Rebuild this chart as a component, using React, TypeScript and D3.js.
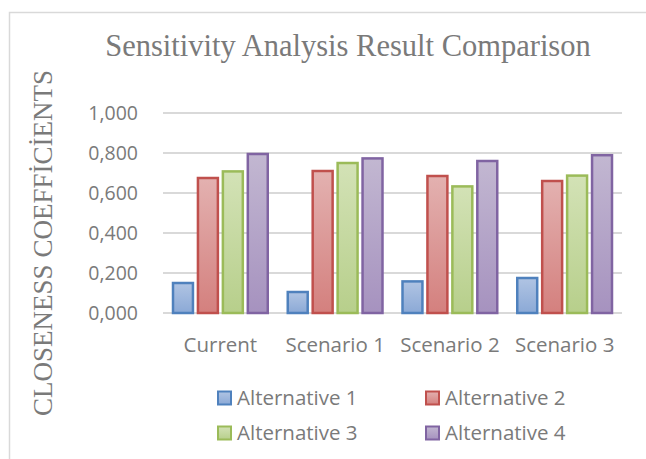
import * as React from 'react'
import { scaleBand, scaleLinear, format } from 'd3'

const categories = ['Current', 'Scenario 1', 'Scenario 2', 'Scenario 3']
const seriesNames = ['Alternative 1', 'Alternative 2', 'Alternative 3', 'Alternative 4']
const alt1 = [0.15, 0.105, 0.158, 0.175]
const alt2 = [0.675, 0.71, 0.685, 0.66]
const alt3 = [0.708, 0.75, 0.633, 0.687]
const alt4 = [0.795, 0.773, 0.76, 0.789]
const yTicks = [0, 0.2, 0.4, 0.6, 0.8, 1.0]

const seriesValues = [alt1, alt2, alt3, alt4]
const strokes = ['#4f81bd', '#c0504d', '#9bbb59', '#8064a2']
const topFill = ['#b0c4e3', '#e3b1b0', '#d3e2b6', '#c2b7d1']
const bottomFill = ['#8ba9d6', '#d4807e', '#b7cf8b', '#a692bf']

const W = 646
const H = 459
const margin = { left: 163, right: 24, top: 113, bottom: 146 }

const textColor = '#7a7a7a'
const sansFont = '"Open Sans", sans-serif'
const serifFont = '"Liberation Serif", "Times New Roman", serif'

// tick labels in the Turkish style: comma as decimal sign
const fmt = (v: number) => format('.3f')(v).replace('.', ',')

function App() {
  const x = scaleBand<string>()
    .domain(categories)
    .range([margin.left, W - margin.right])
  const inner = scaleBand<string>()
    .domain(seriesNames)
    .range([10, x.bandwidth() - 10])
    .paddingInner(0.2)
  const y = scaleLinear()
    .domain([0, 1])
    .range([H - margin.bottom, margin.top])

  return (
    <svg
      width={W}
      height={H}
      style={{ position: 'absolute', left: 0, top: 0, background: '#fff' }}
    >
      <defs>
        {seriesNames.map((s, i) => (
          <linearGradient key={s} id={`grad${i}`} x1="0" y1="0" x2="0" y2="1">
            <stop offset="0%" stopColor={topFill[i]} />
            <stop offset="100%" stopColor={bottomFill[i]} />
          </linearGradient>
        ))}
      </defs>

      <rect x={9.5} y={12.5} width={700} height={500} fill="none" stroke="#d9d9d9" strokeWidth={1.5} />

      <text
        x={348}
        y={56}
        textAnchor="middle"
        fontFamily={serifFont}
        fontSize={30.5}
        fill={textColor}
      >
        Sensitivity Analysis Result Comparison
      </text>

      <text
        transform={`translate(52, ${(73 + 413) / 2}) rotate(-90)`}
        textAnchor="middle"
        fontFamily={serifFont}
        fontSize={27}
        fill={textColor}
      >
        CLOSENESS COEFFİCİENTS
      </text>

      {yTicks.map((t) => (
        <g key={t}>
          <line
            x1={margin.left}
            x2={W - margin.right}
            y1={y(t)}
            y2={y(t)}
            stroke="#d9d9d9"
            strokeWidth={2}
          />
          <text
            x={138}
            y={y(t)}
            dy="0.35em"
            textAnchor="end"
            fontFamily={sansFont}
            fontSize={19.5}
            fill={textColor}
          >
            {fmt(t)}
          </text>
        </g>
      ))}

      {categories.map((c, ci) => (
        <g key={c} transform={`translate(${x(c)},0)`}>
          {seriesNames.map((s, si) => {
            const v = seriesValues[si][ci]
            return (
              <rect
                key={s}
                x={inner(s)}
                y={y(v)}
                width={inner.bandwidth()}
                height={y(0) - y(v)}
                fill={`url(#grad${si})`}
                stroke={strokes[si]}
                strokeWidth={2.5}
              />
            )
          })}
          <text
            x={x.bandwidth() / 2}
            y={345}
            dy="0.35em"
            textAnchor="middle"
            fontFamily={sansFont}
            fontSize={20.5}
            fill={textColor}
          >
            {c}
          </text>
        </g>
      ))}

      {seriesNames.map((s, i) => {
        const lx = i % 2 === 0 ? 217 : 425
        const ly = i < 2 ? 398 : 433
        return (
          <g key={s} transform={`translate(${lx},${ly})`}>
            <rect
              x={1}
              y={-6.5}
              width={13}
              height={13}
              fill={`url(#grad${i})`}
              stroke={strokes[i]}
              strokeWidth={2}
            />
            <text
              x={20}
              y={0}
              dy="0.35em"
              fontFamily={sansFont}
              fontSize={20.5}
              fill={textColor}
            >
              {s}
            </text>
          </g>
        )
      })}
    </svg>
  )
}

export default App
